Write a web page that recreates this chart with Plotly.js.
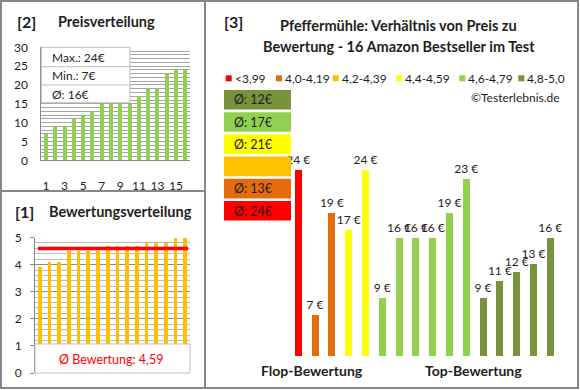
<!DOCTYPE html>
<html>
<head>
<meta charset="utf-8">
<script src="https://cdn.plot.ly/plotly-3.0.1.min.js"></script>
<style>html,body{margin:0;padding:0;background:#fff;}#chart{width:580px;height:390px;}</style>
</head>
<body>
<div id="chart"></div>
<script>
// ---------- data ----------
const priceSorted = [7, 9, 9, 11, 12, 13, 15, 15, 15, 15, 17, 19, 19, 23, 24, 24];
const priceStats = ["Max.: 24€", "Min.: 7€", "Ø: 16€"];
const ratingSorted = [3.9, 4.1, 4.1, 4.5, 4.5, 4.5, 4.5, 4.7, 4.7, 4.7, 4.7, 4.8, 4.8, 4.8, 5.0, 5.0];
const ratingAvg = 4.59;
const ratingAvgLabel = "Ø Bewertung: 4,59";
const groupLabels = ["<3,99", "4,0-4,19", "4,2-4,39", "4,4-4,59", "4,6-4,79", "4,8-5,0"];
const groupColors = ["#FF0000", "#E46C0A", "#FFC000", "#FFFF00", "#92D050", "#77933C"];
const groupAvgLabels = ["Ø: 24€", "Ø: 13€", "", "Ø: 21€", "Ø: 17€", "Ø: 12€"];
const productGroup = [0, 1, 1, 3, 3, 4, 4, 4, 4, 4, 4, 5, 5, 5, 5, 5];
const productPrice = [24, 7, 19, 17, 24, 9, 16, 16, 16, 19, 23, 9, 11, 12, 13, 16];
const axisGroupLabels = ["Flop-Bewertung", "Top-Bewertung"];
const chartTitle = ["Pfeffermühle: Verhältnis von Preis zu", "Bewertung - 16 Amazon Bestseller im Test"];
const panelTitles = ["Preisverteilung", "Bewertungsverteilung"];
const copyright = "©Testerlebnis.de";

// ---------- helpers ----------
const W = 580, H = 390;
const FONT = "Lato, 'DejaVu Sans', sans-serif";
const TXT = "#1e1e1e";
const px = x => x / W;
const py = y => 1 - y / H;
const idx = arr => arr.map((_, i) => i + 1);

const shapes = [];
const annotations = [];
function rect(x0, y0, x1, y1, fill, line, lw, layer) {
  shapes.push({type: "rect", xref: "paper", yref: "paper", x0: px(x0), x1: px(x1), y0: py(y1), y1: py(y0),
    fillcolor: fill, line: {color: line || "rgba(0,0,0,0)", width: lw === undefined ? 1 : lw}, layer: layer || "above"});
}
function hline(x0, x1, y, color, w) {
  shapes.push({type: "line", xref: "paper", yref: "paper", x0: px(x0), x1: px(x1), y0: py(y), y1: py(y),
    line: {color: color, width: w}, layer: "above"});
}
function vline(x, y0, y1, color, w) {
  shapes.push({type: "line", xref: "paper", yref: "paper", x0: px(x), x1: px(x), y0: py(y0), y1: py(y1),
    line: {color: color, width: w}, layer: "above"});
}
function text(t, x, y, opts) {
  opts = opts || {};
  annotations.push({text: t, xref: "paper", yref: "paper", x: px(x), y: py(y), showarrow: false,
    xanchor: opts.xanchor || "left", yanchor: "middle",
    font: {family: FONT, size: opts.size || 12, color: opts.color || TXT, weight: opts.bold ? 700 : 400}});
}

// ---------- traces ----------
const traces = [
  { // panel [2] price distribution
    type: "bar", x: idx(priceSorted), y: priceSorted, xaxis: "x", yaxis: "y",
    marker: {color: "#92D050"}, width: 0.43, hoverinfo: "y"
  },
  { // panel [3] price vs rating
    type: "bar", x: idx(productPrice), y: productPrice, xaxis: "x2", yaxis: "y2",
    marker: {color: productGroup.map(g => groupColors[g])}, width: 0.42,
    text: productPrice.map(v => v + " €"), textposition: "outside", cliponaxis: false,
    constraintext: "none", textfont: {family: FONT, size: 12, color: TXT}, hoverinfo: "y"
  },
  { // panel [1] rating distribution
    type: "bar", x: idx(ratingSorted), y: ratingSorted, xaxis: "x3", yaxis: "y3",
    marker: {color: "#FFC000"}, width: 0.38, hoverinfo: "y"
  }
];

// ---------- panel [2] decorations ----------
text("[2]", 15, 21, {size: 16, bold: true});
text(panelTitles[0], 56, 21, {size: 14.5, bold: true});
rect(41.3, 47.3, 130, 102.7, "#FFFFFF", "#BFBFBF", 1);
hline(41.3, 130, 66.7, "#BFBFBF", 1);
hline(41.3, 130, 85, "#BFBFBF", 1);
[57, 76, 94].forEach((y, i) => text(priceStats[i], 50, y, {size: 12}));

// ---------- panel [1] decorations ----------
text("[1]", 13, 211, {size: 16, bold: true});
text(panelTitles[1], 47, 211, {size: 14.5, bold: true});
shapes.push({type: "line", xref: "x3", yref: "y3", x0: 0.8, x1: 16.3, y0: ratingAvg, y1: ratingAvg,
  line: {color: "#FF0000", width: 3.5}, layer: "above"});
rect(35, 344, 190, 373, "#FFFFFF", "#BFBFBF", 1);
text(ratingAvgLabel, 111, 359, {size: 12.5, color: "#FF0000", xanchor: "center"});

// ---------- panel [3] decorations ----------
text("[3]", 222, 21, {size: 16, bold: true});
text(chartTitle[0], 398.5, 26, {size: 14.5, bold: true, xanchor: "center"});
text(chartTitle[1], 398.5, 46.7, {size: 14.5, bold: true, xanchor: "center"});
const legX = [225.7, 276, 332.7, 396, 459.3, 518.3];
groupLabels.forEach((g, i) => {
  rect(legX[i], 75.3, legX[i] + 6, 81.3, groupColors[i], null, 0);
  text(g, legX[i] + 7, 78.3, {size: 12});
});
text(copyright, 562, 97.7, {size: 12, xanchor: "right"});
// group average boxes, top = last group
for (let k = 0; k < groupLabels.length; k++) {
  const g = groupLabels.length - 1 - k;
  const y0 = 90 + k * 22.2;
  rect(224, y0, 291, y0 + 19.6, groupColors[g], null, 0);
  if (groupAvgLabels[g]) text(groupAvgLabels[g], 232, y0 + 10, {size: 12.5});
}
text(axisGroupLabels[0], 312, 370, {size: 14, bold: true, xanchor: "center"});
text(axisGroupLabels[1], 473.7, 370, {size: 14, bold: true, xanchor: "center"});

// ---------- frame ----------
rect(1, 1, 578, 388, "rgba(0,0,0,0)", "#878787", 2);
vline(205, 1, 388, "#878787", 2);
hline(1, 205, 191, "#878787", 2);

const tickFont = {family: FONT, size: 12, color: TXT};
const layout = {
  width: W, height: H, margin: {l: 0, r: 0, t: 0, b: 0},
  paper_bgcolor: "#FFFFFF", plot_bgcolor: "rgba(0,0,0,0)",
  showlegend: false, bargap: 0,
  xaxis: {domain: [px(41.3), px(190)], range: [0.5, 16.5], tick0: 1, dtick: 2, tickfont: tickFont,
    showgrid: false, zeroline: false, showline: true, linecolor: "#878787", linewidth: 1,
    ticks: "", ticklabelstandoff: 14, anchor: "y", fixedrange: true},
  yaxis: {domain: [py(160.3), py(47.3)], range: [0, 30], dtick: 5, tickfont: tickFont,
    showgrid: true, gridcolor: "#A6A6A6", gridwidth: 1, zeroline: false,
    minor: {dtick: 1, showgrid: true, gridcolor: "#A6A6A6", gridwidth: 1},
    showline: true, linecolor: "#878787", linewidth: 1, ticks: "", ticklabelstandoff: 10,
    anchor: "x", fixedrange: true},
  xaxis2: {domain: [px(289.9), px(558.7)], range: [0.5, 16.5], visible: false, anchor: "y2", fixedrange: true},
  yaxis2: {domain: [py(356), py(135.9)], range: [2.2, 28], visible: false, anchor: "x2", fixedrange: true},
  xaxis3: {domain: [px(35), px(190)], range: [0.5, 16.5], showticklabels: false, showgrid: false,
    zeroline: false, showline: false, ticks: "", anchor: "y3", fixedrange: true},
  yaxis3: {domain: [py(373), py(237.5)], range: [0, 5], dtick: 1, tickfont: tickFont,
    showgrid: true, gridcolor: "#8C8C8C", gridwidth: 1, zeroline: false,
    minor: {dtick: 0.2, showgrid: true, gridcolor: "#BDBDBD", gridwidth: 1},
    showline: true, linecolor: "#878787", linewidth: 1, ticks: "outside", ticklen: 4,
    tickcolor: "#878787", ticklabelstandoff: 6, anchor: "x3", fixedrange: true},
  shapes: shapes,
  annotations: annotations
};

Plotly.newPlot("chart", traces, layout, {staticPlot: true, displayModeBar: false});
</script>
</body>
</html>
